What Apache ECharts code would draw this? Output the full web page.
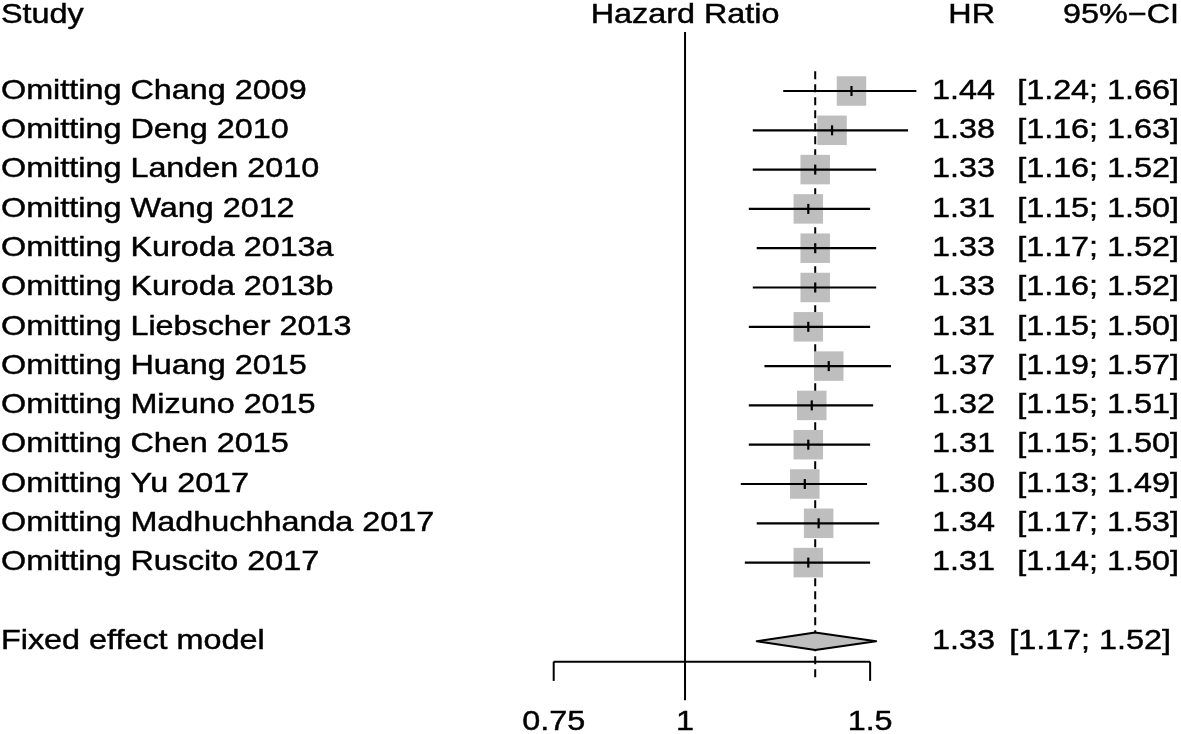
<!DOCTYPE html>
<html>
<head>
<meta charset="utf-8">
<script src="https://cdn.jsdelivr.net/npm/echarts@6/dist/echarts.min.js"></script>
<style>
html,body{margin:0;padding:0;background:#fff;}
#main{width:1181px;height:734px;}
</style>
</head>
<body>
<div id="main"></div>
<script>
// ---- data ----
const studies = [
  'Omitting Chang 2009', 'Omitting Deng 2010', 'Omitting Landen 2010', 'Omitting Wang 2012',
  'Omitting Kuroda 2013a', 'Omitting Kuroda 2013b', 'Omitting Liebscher 2013', 'Omitting Huang 2015',
  'Omitting Mizuno 2015', 'Omitting Chen 2015', 'Omitting Yu 2017', 'Omitting Madhuchhanda 2017',
  'Omitting Ruscito 2017'
];
const hr    = [1.44, 1.38, 1.33, 1.31, 1.33, 1.33, 1.31, 1.37, 1.32, 1.31, 1.30, 1.34, 1.31];
const lower = [1.24, 1.16, 1.16, 1.15, 1.17, 1.16, 1.15, 1.19, 1.15, 1.15, 1.13, 1.17, 1.14];
const upper = [1.66, 1.63, 1.52, 1.50, 1.52, 1.52, 1.50, 1.57, 1.51, 1.50, 1.49, 1.53, 1.50];
const pooledLabel = ['Fixed effect model'];
const pooledHR = [1.33];
const pooledLower = [1.17];
const pooledUpper = [1.52];
const headers = ['Study', 'Hazard Ratio', 'HR', '95%\u2212CI'];
const tickValues = [0.75, 1, 1.5];
const tickLabels = ['0.75', '1', '1.5'];
const nullValue = [1];

// ---- layout / style ----
const FONT = '"Liberation Sans", Arial, Helvetica, sans-serif';
const FS = 28, SX = 1.155;
const COL_LABEL = 1, COL_HR = 995, COL_CI = 1179, COL_CI_POOLED = 1171;
const SQ = 29.5;
const GRAY = '#bebebe';
const pooledRow = studies.length + 1;

function txt(x, y, s, align) {
  return {
    type: 'text', x: x, y: y, scaleX: SX,
    style: { text: s, x: 0, y: 0, fontSize: FS, fontFamily: FONT, fill: '#000',
             stroke: '#000', lineWidth: 0.45, align: align, verticalAlign: 'middle' }
  };
}
const fmt = v => v.toFixed(2);

const chart = echarts.init(document.getElementById('main'), null, { renderer: 'canvas' });

const studyData = studies.map((s, i) => [hr[i], i, lower[i], upper[i]]);
const pooledData = pooledHR.map((v, k) => [v, pooledRow, pooledLower[k], pooledUpper[k]]);

chart.setOption({
  animation: false,
  backgroundColor: '#fff',
  grid: { left: 553.7, right: 179.55, top: 12.4, bottom: 14.2 },
  xAxis: { type: 'log', logBase: 10, min: 0.75, max: 2, show: false },
  yAxis: { type: 'value', inverse: true, min: -2, max: 16, show: false },
  series: [
    // reference lines
    {
      type: 'custom', clip: false, silent: true, z: 1,
      data: [[nullValue[0], 0]],
      renderItem: function (params, api) {
        const top = api.coord([nullValue[0], -1.5]);
        const bot = api.coord([nullValue[0], 15.5]);
        const dTop = api.coord([pooledHR[0], -0.5]);
        const dBot = api.coord([pooledHR[0], 15.0]);
        return {
          type: 'group', children: [
            { type: 'line', shape: { x1: top[0], y1: top[1], x2: bot[0], y2: bot[1] }, style: { stroke: '#000', lineWidth: 2 } },
            { type: 'line', shape: { x1: dTop[0], y1: dTop[1], x2: dBot[0], y2: dBot[1] }, style: { stroke: '#000', lineWidth: 2, lineDash: [8, 5] } }
          ]
        };
      }
    },
    // headers
    {
      type: 'custom', clip: false, silent: true, z: 3,
      data: [[nullValue[0], -2]],
      renderItem: function (params, api) {
        const c = api.coord([nullValue[0], -1.93]);
        return {
          type: 'group', children: [
            txt(COL_LABEL, c[1], headers[0], 'left'),
            txt(c[0], c[1], headers[1], 'center'),
            txt(COL_HR, c[1], headers[2], 'right'),
            txt(COL_CI, c[1], headers[3], 'right')
          ]
        };
      }
    },
    // studies
    {
      type: 'custom', clip: false, silent: true, z: 2,
      data: studyData,
      encode: { x: [0, 2, 3], y: 1 },
      renderItem: function (params, api) {
        const i = api.value(1);
        const c = api.coord([api.value(0), i]);
        const lo = api.coord([api.value(2), i]);
        const hi = api.coord([api.value(3), i]);
        const idx = params.dataIndex;
        return {
          type: 'group', children: [
            { type: 'rect', shape: { x: c[0] - SQ / 2, y: c[1] - SQ / 2, width: SQ, height: SQ }, style: { fill: GRAY } },
            { type: 'line', shape: { x1: lo[0], y1: c[1], x2: hi[0], y2: c[1] }, style: { stroke: '#000', lineWidth: 2.2 } },
            { type: 'line', shape: { x1: c[0], y1: c[1] - 5, x2: c[0], y2: c[1] + 5 }, style: { stroke: '#000', lineWidth: 2.2 } },
            txt(COL_LABEL, c[1], studies[idx], 'left'),
            txt(COL_HR, c[1], fmt(hr[idx]), 'right'),
            txt(COL_CI, c[1], '[' + fmt(lower[idx]) + '; ' + fmt(upper[idx]) + ']', 'right')
          ]
        };
      }
    },
    // pooled diamond
    {
      type: 'custom', clip: false, silent: true, z: 2,
      data: pooledData,
      encode: { x: [0, 2, 3], y: 1 },
      renderItem: function (params, api) {
        const r = api.value(1);
        const c = api.coord([api.value(0), r]);
        const lo = api.coord([api.value(2), r]);
        const hi = api.coord([api.value(3), r]);
        const h = 8.7;
        const k = params.dataIndex;
        return {
          type: 'group', children: [
            { type: 'polygon', shape: { points: [[lo[0], c[1]], [c[0], c[1] - h], [hi[0], c[1]], [c[0], c[1] + h]] },
              style: { fill: GRAY, stroke: '#000', lineWidth: 2, lineJoin: 'round' } },
            txt(COL_LABEL, c[1], pooledLabel[k], 'left'),
            txt(COL_HR, c[1], fmt(pooledHR[k]), 'right'),
            txt(COL_CI_POOLED, c[1], '[' + fmt(pooledLower[k]) + '; ' + fmt(pooledUpper[k]) + ']', 'right')
          ]
        };
      }
    },
    // bottom axis
    {
      type: 'custom', clip: false, silent: true, z: 2,
      data: tickValues.map(v => [v, 14.52]),
      renderItem: function (params, api) {
        const v = api.value(0);
        const c = api.coord([v, 14.52]);
        const b = api.coord([v, 15.01]);
        const l = api.coord([v, 16.06]);
        const children = [
          { type: 'line', shape: { x1: c[0], y1: c[1], x2: b[0], y2: b[1] }, style: { stroke: '#000', lineWidth: 2 } },
          txt(l[0], l[1], tickLabels[params.dataIndex], 'center')
        ];
        if (params.dataIndex === 0) {
          const e = api.coord([tickValues[tickValues.length - 1], 14.52]);
          children.push({ type: 'line', shape: { x1: c[0], y1: c[1], x2: e[0], y2: e[1] }, style: { stroke: '#000', lineWidth: 2 } });
        }
        return { type: 'group', children: children };
      }
    }
  ]
});
</script>
</body>
</html>
